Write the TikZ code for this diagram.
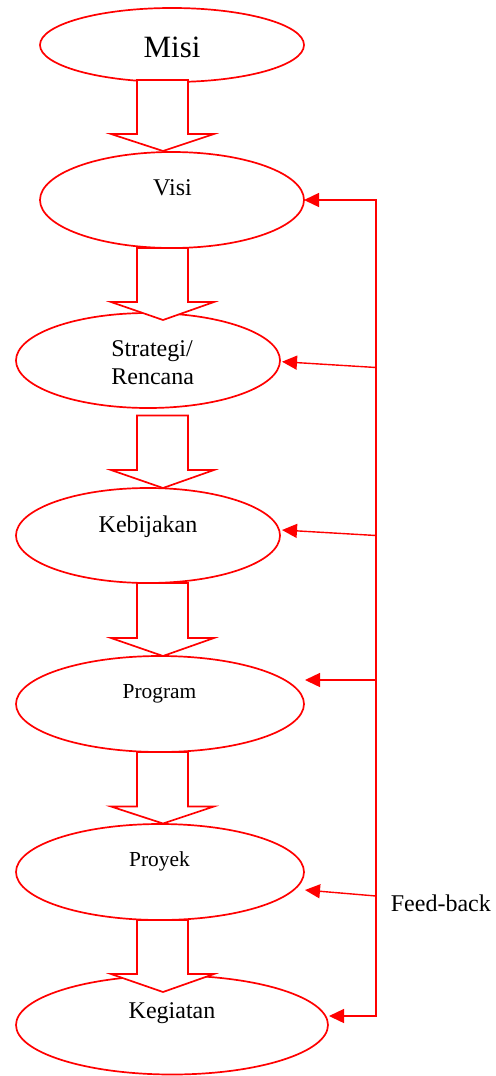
\documentclass[tikz,border=0pt]{standalone}
\usepackage{fontspec}
\setmainfont{Liberation Serif}
\usetikzlibrary{shapes.geometric,arrows.meta}
\tikzset{
  ell/.style={ellipse, draw=red, line width=0.85pt, inner sep=0pt, outer sep=0pt, fill=none},
  lbl/.style={anchor=base, inner sep=0pt, text=black},
  barrow/.style={draw=red, fill=white, line width=0.85pt, line join=miter},
  fb/.style={draw=red, line width=0.7pt, -{Triangle[length=7.5pt,width=7pt]}},
  fbboth/.style={draw=red, line width=0.7pt, {Triangle[length=7.5pt,width=7pt]}-{Triangle[length=7.5pt,width=7pt]}}
}
\newcommand\blockarrow[3]{\draw[barrow] (137,#1) -- (137,#2) -- (111,#2) -- (163,#3) -- (214,#2) -- (188,#2) -- (188,#1) -- cycle;}
\begin{document}
\begin{tikzpicture}[x=0.5pt,y=-0.5pt]
\useasboundingbox (0,0) rectangle (496,1076);
% ellipses
\node[ell, minimum width=132pt, minimum height=37pt] (misi) at (172,45) {};
\node[ell, minimum width=132pt, minimum height=48pt] (visi) at (172,200) {};
\node[ell, minimum width=132pt, minimum height=47.5pt] (strat) at (148,360.5) {};
\node[ell, minimum width=132pt, minimum height=47.5pt] (kebi) at (148,535.5) {};
\node[ell, minimum width=144pt, minimum height=48pt] (prog) at (160,704) {};
\node[ell, minimum width=144pt, minimum height=48pt] (proy) at (160,872) {};
\node[ell, minimum width=156pt, minimum height=49.5pt] (kegi) at (172,1025) {};
% block arrows
\blockarrow{80}{134}{151}
\blockarrow{248}{302}{320}
\blockarrow{415.5}{470}{488}
\blockarrow{583}{638}{656}
\blockarrow{752}{806.5}{823.5}
\blockarrow{920}{974}{992}
% texts
\node[lbl, font=\fontsize{15.5pt}{18pt}\selectfont] (tmisi) at (172,57) {Misi};
\node[lbl, font=\fontsize{12pt}{13.8pt}\selectfont] (tvisi) at (172.5,195) {Visi};
\node[lbl, font=\fontsize{12pt}{13.8pt}\selectfont, anchor=base west] (tstrat1) at (111,356.5) {Strategi/};
\node[lbl, font=\fontsize{12pt}{13.8pt}\selectfont, anchor=base west] (tstrat2) at (111,384) {Rencana};
\node[lbl, font=\fontsize{12pt}{13.8pt}\selectfont] (tkebi) at (148,532.5) {Kebijakan};
\node[lbl, font=\fontsize{10.7pt}{13pt}\selectfont] (tprog) at (159.5,698.3) {Program};
\node[lbl, font=\fontsize{10.7pt}{13pt}\selectfont] (tproy) at (159.5,866) {Proyek};
\node[lbl, font=\fontsize{12pt}{13.8pt}\selectfont] (tkegi) at (172,1018) {Kegiatan};
\node[lbl, font=\fontsize{12pt}{13.8pt}\selectfont, anchor=base west] (tfb) at (390.5,911.5) {Feed-back};
% feedback bus
\coordinate (b1) at (376,200);
\coordinate (b2) at (376,367.5);
\coordinate (b3) at (376,535.5);
\coordinate (b4) at (376,680);
\coordinate (b5) at (376,896);
\coordinate (b6) at (376,1016);
\coordinate (e2) at (282,361.7);
\coordinate (e3) at (282,530);
\coordinate (e4) at (305,680);
\coordinate (e5) at (305,890);
\coordinate (e6) at (329,1016);
\path[fbboth] (visi.east) -- (b1) -- (b6) -- (e6);
\path[fb] (b2) -- (e2);
\path[fb] (b3) -- (e3);
\path[fb] (b4) -- (e4);
\path[fb] (b5) -- (e5);
\end{tikzpicture}
\end{document}
